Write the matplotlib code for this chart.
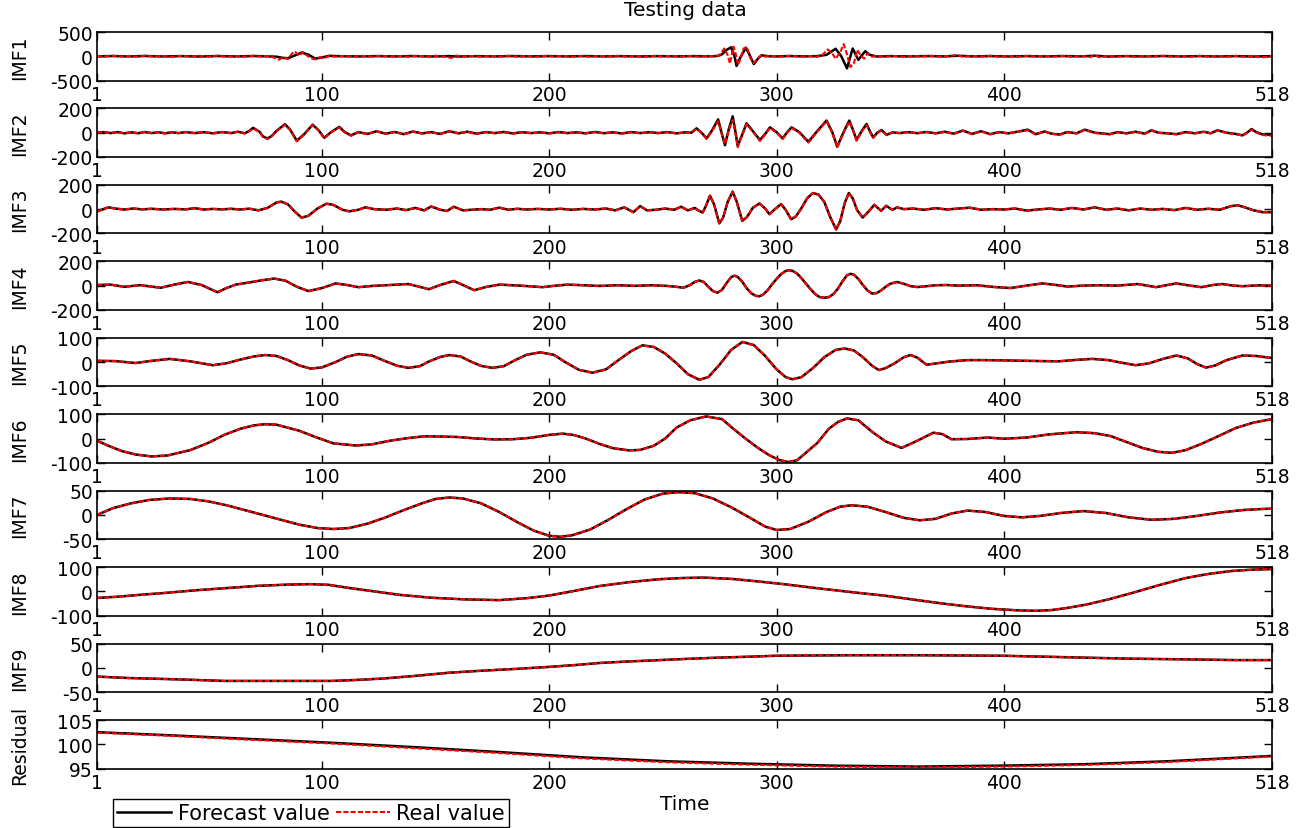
import numpy as np
import matplotlib.pyplot as plt

plt.rcParams['font.family'] = 'DejaVu Sans'

x_ticks = [1, 100, 200, 300, 400, 518]

# (time, value) pairs read per component
imf1_fore = [(1, 0), (8, 4), (15, -3), (22, 5), (30, -4), (38, 3), (46, -5), (54, 4), (62, -3), (70, 5),
             (76, -2), (80, -10), (83, -35), (85, -40), (88, 15), (91, 75), (94, 35), (97, -50), (100, -25),
             (103, 8), (108, 2), (116, -4), (124, 3), (132, -3), (140, 4), (148, -4), (156, 3), (160, -5),
             (168, 2), (176, -3), (184, 4), (192, -2), (200, 3), (208, -3), (216, 4), (224, -3), (232, 2),
             (240, -4), (248, 3), (256, -2), (264, 3), (270, -2), (274, 5), (276, 40), (278, 130), (280, 185),
             (281.5, 0), (282.4, -200), (284, -30), (286.5, 175), (288, 40), (290, -160), (292, -40),
             (293.4, 20), (296, 2), (300, -3), (306, 4), (312, -2), (318, 3), (322, 30), (326, 155),
             (328.5, 0), (331, -250), (333.5, 160), (336, -75), (339, 105), (341, 30), (344, -5), (350, 3),
             (358, -3), (366, 4), (374, -3), (380, 10), (386, -2), (394, 3), (402, -4), (410, 3), (418, -3),
             (426, 4), (434, -2), (440, 10), (446, -5), (454, 3), (462, -3), (470, 4), (478, -3), (486, 3),
             (494, -4), (502, 3), (510, -5), (518, 2)]
imf1_real = [(1, 5), (4, -8), (8, 10), (12, -6), (15, 8), (19, -10), (22, 12), (26, -8), (30, 6), (34, -12),
             (38, 8), (42, -6), (46, 10), (50, -8), (54, 12), (58, -10), (62, 6), (66, -8), (70, 10), (73, -6),
             (76, 8), (79, -30), (81, -70), (83, -20), (85, -60), (86.5, 40), (88, 100), (90, 10), (91.5, 90),
             (93, 30), (95, -40), (97, -65), (99, -20), (101, -40), (103, 5), (106, -8), (110, 6), (114, -10),
             (118, 8), (122, -6), (126, 10), (130, -8), (134, 6), (138, -10), (142, 8), (146, -6), (150, 10),
             (154, -8), (157, -35), (159, 15), (162, -8), (166, 6), (170, -10), (174, 8), (178, -6), (182, 10),
             (186, -8), (190, 6), (194, -10), (198, 8), (202, -6), (206, 10), (210, -8), (214, 6), (218, -10),
             (222, 8), (226, -6), (230, 10), (234, -8), (238, 6), (242, -10), (246, 8), (250, -6), (254, 10),
             (258, -8), (262, 6), (266, -10), (270, 8), (273, -5), (275, 30), (277, 160), (278.5, 20),
             (279.5, -150), (281, 200), (282, 60), (283, -185), (284.5, 0), (285.5, 160), (287, 190),
             (288.5, -40), (290, -140), (291.5, -60), (293, 10), (295, -5), (298, 8), (302, -6), (306, 10),
             (310, -8), (314, 6), (318, -10), (320, 20), (322.5, 140), (324.5, 60), (326, -50), (328, 80),
             (329.5, 250), (331, 40), (332.5, -220), (334, -150), (335.5, 130), (337, 20), (338.5, -50),
             (340, 60), (342, -10), (344, 5), (348, -8), (352, 6), (356, -10), (360, 8), (364, -6), (368, 10),
             (372, -8), (376, 6), (379, 25), (382, -10), (386, 8), (390, -6), (394, 10), (398, -8), (402, 6),
             (406, -10), (410, 8), (414, -6), (418, 10), (422, -8), (426, 6), (430, -10), (434, 8), (438, -15),
             (440, 25), (442, -20), (446, 10), (450, -8), (454, 6), (458, -10), (462, 8), (466, -6), (470, 10),
             (474, -8), (478, 6), (482, -10), (486, 8), (490, -6), (494, 10), (498, -8), (502, 6), (506, -10),
             (510, 8), (514, -20), (518, 5)]

imf2_fore = [(1, 0), (4, 5), (7, -3), (10, 5), (13, -5), (16, 3), (19, -4), (22, 5), (25, -3), (28, 4),
             (31, -5), (34, 3), (37, -3), (40, 5), (44, -3), (48, 4), (52, -5), (56, 5), (60, -3), (63, 8),
             (66, -5), (68, 15), (69.7, 40), (72.5, 8), (74, -30), (76, -48), (78, -25), (80, 15), (83.7, 70),
             (86, 25), (88.9, -66), (92, -15), (95.9, 66), (98.5, 20), (101, -42), (104, 5), (107.6, 48),
             (110, 5), (112.8, -22), (116, 5), (120, -10), (124, 12), (128, -8), (132, 6), (136, -12),
             (140, 10), (144, -6), (148, 5), (152, -10), (156, 12), (160, -5), (164, 8), (168, -8), (172, 5),
             (176, -3), (180, 6), (184, -6), (188, 4), (192, -3), (196, 3), (200, -5), (204, 5), (208, -3),
             (212, 3), (216, -5), (220, 6), (224, -4), (228, 3), (232, -6), (236, 5), (240, -3), (244, 4),
             (248, -3), (252, 5), (256, -5), (260, 3), (262.5, 0), (264.8, 36), (267, 0), (269.2, -47),
             (271.5, 15), (274.3, 110), (275.8, 0), (277.3, -103), (279, 30), (280.7, 135), (281.8, 20),
             (282.9, -108), (284.8, -20), (286.8, 78), (289.5, 15), (292.7, -60), (295, -10), (297.1, 44),
             (300, 5), (302.7, -47), (304.5, 0), (306.6, 44), (310, 5), (314, -75), (318, 15), (322, 100),
             (324.5, 5), (326.7, -115), (329.5, 5), (332, 100), (333.6, 25), (335.2, -60), (337.5, 15),
             (339.6, 72), (341, 15), (342.5, -38), (344.3, 0), (346.2, 22), (348.4, -18), (351, 3), (354, -3),
             (358, 5), (362, -4), (366, 6), (370, -5), (374, 8), (378, -8), (382, 18), (386, -10), (390, 12),
             (394, -12), (398, 5), (402, -5), (406, 8), (410.5, 25), (414, -12), (418, 10), (421, -8),
             (424.5, -15), (428, 5), (432, -5), (435.6, 25), (440, 0), (446.6, -12), (450, 5), (454, -5),
             (458, 8), (462, -8), (465, 20), (468, 0), (472, -5), (476, -12), (480, 5), (484, -5), (488, 8),
             (491, -5), (494, 20), (498, 0), (502, -10), (505, -22), (507, 0), (509, 30), (511, 5), (514, -15),
             (518, -18)]
imf2_real = [(1, 2), (4, 6), (7, -4), (10, 6), (13, -6), (16, 4), (19, -5), (22, 6), (25, -4), (28, 5),
             (31, -6), (34, 4), (37, -4), (40, 6), (44, -4), (48, 5), (52, -6), (56, 6), (60, -4), (63, 9),
             (66, -6), (68, 12), (69.7, 35), (72.5, 5), (74, -34), (76, -52), (78, -28), (80, 12), (83.7, 66),
             (86, 22), (88.9, -72), (92, -18), (95.9, 62), (98.5, 18), (101, -46), (104, 2), (107.6, 44),
             (110, 2), (112.8, -25), (116, 4), (120, -11), (124, 11), (128, -9), (132, 5), (136, -13),
             (140, 9), (144, -7), (148, 4), (152, -11), (156, 11), (160, -6), (164, 7), (168, -9), (172, 4),
             (176, -4), (180, 5), (184, -7), (188, 3), (192, -4), (196, 2), (200, -6), (204, 4), (208, -4),
             (212, 2), (216, -6), (220, 5), (224, -5), (228, 2), (232, -7), (236, 4), (240, -4), (244, 3),
             (248, -4), (252, 4), (256, -6), (260, 2), (262.5, -2), (264.8, 30), (267, -3), (269.2, -50),
             (271.5, 10), (274.3, 95), (275.8, -5), (277.3, -95), (279, 25), (280.7, 105), (281.8, 10),
             (282.9, -120), (284.8, -25), (286.8, 72), (289.5, 10), (292.7, -68), (295, -14), (297.1, 40),
             (300, 0), (302.7, -52), (304.5, -4), (306.6, 40), (310, 0), (314, -82), (318, 10), (322, 95),
             (324.5, 0), (326.7, -122), (329.5, 0), (332, 92), (333.6, 20), (335.2, -66), (337.5, 10),
             (339.6, 62), (341, 10), (342.5, -42), (344.3, -3), (346.2, 18), (348.4, -20), (351, 2), (354, -4),
             (358, 4), (362, -5), (366, 5), (370, -6), (374, 7), (378, -9), (382, 15), (386, -11), (390, 11),
             (394, -13), (398, 4), (402, -6), (406, 7), (410.5, 20), (414, -14), (418, 8), (421, -9),
             (424.5, -17), (428, 4), (432, -6), (435.6, 22), (440, -2), (446.6, -14), (450, 4), (454, -6),
             (458, 7), (462, -9), (465, 17), (468, -2), (472, -6), (476, -14), (480, 4), (484, -6), (488, 7),
             (491, -6), (494, 17), (498, -2), (502, -12), (505, -24), (507, -2), (509, 25), (511, 2),
             (514, -20), (518, -25)]

imf3_vals = [(1, -20), (3, -5), (6, 15), (9, 5), (13, -3), (17, 5), (21, -2), (25, 3), (30, -3), (35, 2),
             (40, -2), (44, 8), (48, -3), (52, 2), (56, -2), (60, 3), (64, -3), (68, 4), (72, -10), (76, 10),
             (80, 55), (82, 62), (85, 40), (88, -20), (91, -70), (94, -55), (98, 5), (102, 45), (105, 35),
             (109, -5), (112, -18), (116, -5), (119, 15), (123, 0), (128, -5), (133, 5), (137, -8), (141, 10),
             (145, -10), (148, 22), (152, -5), (155, -15), (158, 20), (162, -10), (166, -5), (170, 0),
             (174, -5), (178, 12), (182, -5), (186, 3), (190, -3), (195, 2), (200, -3), (205, 3), (210, -5),
             (215, 2), (220, -3), (225, 5), (229, -10), (233, 15), (237, -25), (240, 25), (243, -10),
             (247, -5), (251, 5), (255, -5), (258, 20), (261, -10), (264, 10), (266, -15), (267.5, -28),
             (269, 30), (270.7, 111), (272.5, 40), (274.8, -117), (276.5, -70), (278.5, 60), (280.7, 144),
             (282.5, 60), (284.9, -97), (287, -65), (289.5, 10), (292.5, 47), (295, 5), (296.9, -42),
             (299, -5), (302, 42), (304, -5), (306.4, -83), (308.5, -60), (311, 10), (313.5, 90), (316, 133),
             (318.5, 120), (321, 60), (323.5, -60), (326.2, -167), (328, -100), (330, 50), (331.8, 133),
             (333.5, 90), (335.5, -10), (337.9, -69), (340.5, -20), (343, 36), (346, -14), (348.2, 28),
             (351, -6), (353, 15), (356, 0), (360, 5), (365, -5), (370, 8), (375, -3), (380, 5), (385, 12),
             (390, -5), (395, 0), (400, -3), (405, 5), (410, -12), (415, -3), (420, 5), (425, -5), (430, 10),
             (435, -3), (440, 15), (445, -5), (450, 5), (455, -10), (460, 5), (465, -5), (470, 2), (475, -8),
             (480, 10), (485, -5), (490, 3), (495, -5), (500, 25), (503, 32), (506, 15), (510, -10),
             (514, -25), (518, -25)]

imf4_vals = [(1, 5), (7, 8), (13, -10), (20, 4), (29, -18), (35, 8), (41, 30), (47, 5), (54, -55), (58, -20),
             (62, 8), (68, 26), (74, 45), (79, 58), (84, 40), (89, -10), (94, -45), (100, -20), (106, 18),
             (111, 5), (116, -13), (122, -3), (130, 5), (138, 13), (143, -10), (147, -30), (152, 5),
             (158, 38), (162, 5), (167, -38), (172, -12), (178, 8), (185, 2), (191, -5), (197, -13),
             (202, -2), (208, 8), (215, 3), (222, -3), (230, 3), (238, -2), (245, 3), (252, -3), (256, -10),
             (259, -18), (262, 5), (264, 30), (266, 42), (268, 30), (270, -10), (272, -45), (274, -58),
             (276, -35), (278, 20), (280, 70), (281.5, 82), (283, 70), (285, 30), (287, -25), (289, -65),
             (291, -85), (292.5, -88), (294, -75), (296, -40), (298, 10), (300, 55), (302, 95), (304, 120),
             (305.5, 127), (307, 122), (309, 100), (311, 60), (313, 15), (315, -30), (317, -70), (319, -95),
             (321, -100), (323, -95), (325, -70), (327, -25), (329, 35), (331, 85), (332.5, 97), (334, 90),
             (336, 55), (338, 5), (340, -40), (342, -65), (344, -62), (346, -40), (348, -10), (350, 15),
             (353, 30), (356, 15), (359, -5), (362, -12), (366, -5), (370, 3), (375, 5), (380, 0), (388, 3),
             (396, -12), (403, -20), (410, 0), (417, 18), (423, 5), (428, -8), (435, 0), (442, 3), (450, 0),
             (459, 13), (463, 0), (467, -13), (472, 5), (476, 18), (482, 0), (487, -13), (492, 5), (496, 13),
             (501, 0), (505, -5), (512, 2), (518, 0)]

imf5_vals = [(1, 5), (9, 4), (18, -4), (25, 5), (33, 13), (42, 3), (52, -13), (58, -5), (64, 10), (70, 23),
             (75, 29), (80, 25), (85, 8), (90, -14), (95, -27), (100, -22), (106, 0), (111, 22), (116, 33),
             (122, 27), (127, 7), (133, -15), (138, -24), (143, -17), (147, 2), (152, 21), (156, 29),
             (161, 23), (165, 4), (170, -16), (175, -24), (180, -17), (185, 8), (190, 30), (196, 40),
             (202, 30), (207, 0), (213, -32), (219, -44), (225, -30), (230, 5), (236, 45), (241, 69),
             (246, 62), (251, 35), (256, -5), (261, -50), (266, -73), (270, -62), (275, -10), (280, 50),
             (285, 83), (290, 70), (295, 25), (300, -30), (304, -62), (307, -71), (311, -62), (316, -25),
             (321, 20), (326, 50), (330, 56), (334, 48), (338, 20), (342, -15), (345, -33), (348, -25),
             (352, -5), (356, 20), (359, 29), (362, 18), (366, -11), (370, -6), (376, 2), (384, 8), (392, 8),
             (399, 7), (410, 5), (424, 3), (432, 9), (439, 13), (446, 8), (452, -3), (458, -13), (464, -5),
             (470, 13), (476, 27), (481, 15), (485, -8), (489, -23), (493, -14), (498, 8), (505, 27),
             (511, 25), (518, 17)]

imf6_vals = [(1, -9), (6, -30), (12, -52), (18, -66), (25, -74), (32, -70), (42, -48), (50, -18), (57, 15),
             (64, 40), (70, 54), (75, 59), (80, 57), (90, 32), (98, 3), (105, -20), (115, -29), (122, -24),
             (130, -9), (138, 2), (145, 9), (153, 8), (160, 6), (168, 0), (176, -4), (184, -3), (192, 3),
             (200, 15), (206, 20), (211, 14), (216, 0), (222, -22), (228, -40), (235, -49), (240, -47),
             (246, -30), (251, 0), (256, 45), (262, 75), (269, 91), (276, 80), (281, 40), (287, -5),
             (292, -40), (297, -70), (301, -88), (305, -97), (309, -90), (314, -50), (318, -18), (323, 40),
             (327, 68), (331, 83), (336, 75), (342, 28), (348, -12), (355, -39), (362, -9), (369, 24),
             (373, 18), (377, -3), (384, -2), (393, 4), (400, -1), (410, 4), (420, 17), (432, 26), (440, 22),
             (447, 10), (455, -18), (461, -39), (468, -55), (474, -59), (480, -48), (487, -22), (494, 8),
             (502, 43), (510, 66), (518, 80)]

imf7_vals = [(1, 0), (8, 14), (16, 24), (24, 31), (33, 34), (42, 33), (50, 28), (58, 20), (66, 10), (74, 0),
             (82, -10), (90, -20), (98, -27), (105, -29), (112, -27), (120, -18), (128, -5), (136, 10),
             (144, 24), (150, 33), (156, 36), (162, 34), (170, 24), (178, 6), (186, -15), (193, -32),
             (200, -43), (205, -45), (210, -42), (218, -30), (226, -10), (234, 12), (242, 32), (250, 44),
             (257, 47), (264, 45), (272, 34), (280, 16), (288, -5), (295, -24), (300, -31), (306, -29),
             (314, -14), (322, 6), (328, 17), (333, 20), (340, 17), (348, 6), (356, -6), (363, -11),
             (370, -8), (377, 3), (384, 9), (392, 6), (400, -2), (408, -5), (416, -2), (425, 4), (435, 8),
             (445, 4), (455, -5), (465, -10), (475, -8), (485, -2), (495, 5), (505, 10), (512, 12), (518, 13)]

imf8_vals = [(1, -27), (10, -22), (20, -14), (30, -7), (45, 5), (60, 15), (72, 23), (85, 28), (95, 30),
             (103, 27), (112, 14), (123, 0), (134, -14), (148, -26), (163, -33), (178, -36), (190, -28),
             (200, -17), (211, 2), (222, 22), (235, 38), (248, 50), (258, 55), (268, 57), (281, 51),
             (292, 41), (303, 30), (318, 13), (333, -3), (348, -18), (362, -36), (373, -50), (384, -62),
             (395, -72), (406, -78), (414, -80), (421, -77), (428, -68), (436, -55), (446, -33), (457, -5),
             (468, 25), (480, 55), (490, 72), (500, 84), (510, 90), (518, 92)]

imf9_vals = [(1, -18), (15, -21), (31, -23), (45, -25), (57, -27), (70, -27), (86, -27), (104, -27),
             (115, -25), (127, -22), (140, -17), (156, -10), (170, -6), (186, -2), (200, 2), (212, 6),
             (222, 10), (234, 13), (244, 15), (258, 18), (274, 21), (288, 23), (300, 25), (315, 25.5),
             (333, 26), (350, 26), (362, 26), (380, 25.5), (399, 25), (418, 23), (436, 21), (455, 19),
             (472, 18), (488, 17), (502, 16), (518, 16)]

resid_fore = [(1, 102.5), (31, 101.9), (68, 101.1), (105, 100.3), (141, 99.4), (178, 98.4), (215, 97.3),
              (252, 96.5), (288, 96.0), (325, 95.6), (362, 95.4), (399, 95.6), (436, 95.9), (472, 96.5),
              (518, 97.6)]
resid_real = [(1, 102.4), (31, 101.8), (68, 100.95), (105, 100.15), (141, 99.2), (178, 98.2), (215, 97.1),
              (252, 96.3), (288, 95.8), (325, 95.4), (362, 95.25), (399, 95.4), (436, 95.75), (472, 96.35),
              (518, 97.5)]

names = ['IMF1', 'IMF2', 'IMF3', 'IMF4', 'IMF5', 'IMF6', 'IMF7', 'IMF8', 'IMF9', 'Residual']
forecast = [imf1_fore, imf2_fore, imf3_vals, imf4_vals, imf5_vals, imf6_vals, imf7_vals, imf8_vals,
            imf9_vals, resid_fore]
real = [imf1_real, imf2_real, imf3_vals, imf4_vals, imf5_vals, imf6_vals, imf7_vals, imf8_vals,
        imf9_vals, resid_real]
y_limits = [(-500, 500), (-200, 200), (-200, 200), (-200, 200), (-100, 100), (-100, 100), (-50, 50),
            (-100, 100), (-50, 50), (95, 105)]

W, H = 1309, 829
fig = plt.figure(figsize=(W / 100, H / 100), dpi=100)

left, width = 97, 1175
top0, pitch, height = 33, 76.45, 48.5

for i in range(len(names)):
    top = top0 + pitch * i
    ax = fig.add_axes([left / W, 1 - (top + height) / H, width / W, height / H])
    ft, fv = zip(*forecast[i])
    rt, rv = zip(*real[i])
    l1, = ax.plot(ft, fv, color='black', lw=1.8)
    l2, = ax.plot(rt, rv, color='red', lw=1.5, ls=(0, (2.5, 1)))
    lo, hi = y_limits[i]
    ax.set_xlim(1, 518)
    ax.set_ylim(lo, hi)
    ax.set_xticks(x_ticks)
    ax.set_yticks([lo, (lo + hi) / 2, hi])
    ax.set_yticklabels([f'{v:g}' for v in [lo, (lo + hi) / 2, hi]])
    ax.tick_params(direction='in', top=True, right=True, length=6, width=1, labelsize=13.5, pad=3)
    for s in ax.spines.values():
        s.set_linewidth(1.2)
    ax.set_ylabel(names[i], fontsize=13.5)
    ax.yaxis.set_label_coords(-0.058, 0.5)

fig.text(685 / W, 1 - 10 / H, 'Testing data', ha='center', va='center', fontsize=14.5)
fig.text(685 / W, 1 - 805 / H, 'Time', ha='center', va='center', fontsize=14.5)

leg = fig.legend([l1, l2], ['Forecast value', 'Real value'], loc='lower left',
                 bbox_to_anchor=(113 / W, 1 / H), ncol=2, fontsize=15, frameon=True, fancybox=False,
                 edgecolor='black', framealpha=1, borderpad=0.2, handlelength=2.6, handletextpad=0.3,
                 columnspacing=0.3, borderaxespad=0)
leg.get_frame().set_linewidth(1.0)

fig.savefig('out.png', dpi=100)
